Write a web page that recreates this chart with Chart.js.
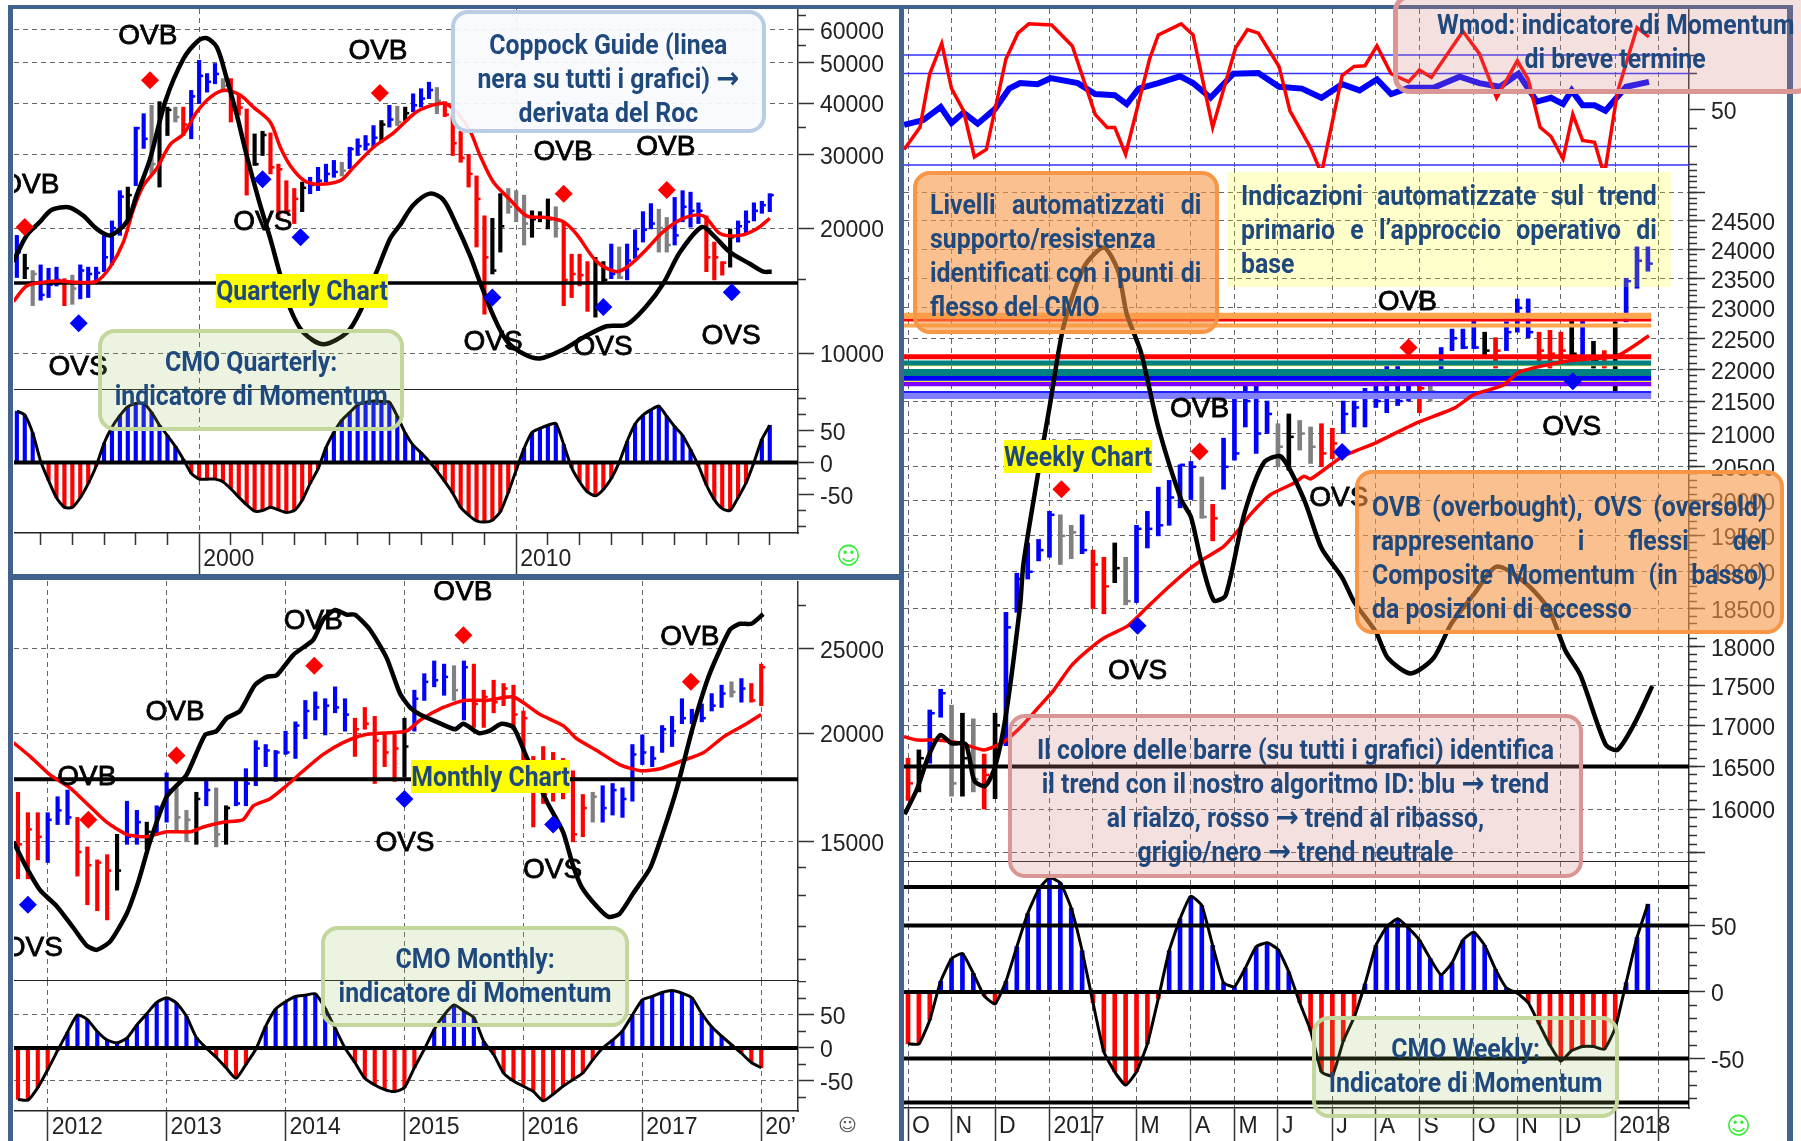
<!DOCTYPE html>
<html>
<head>
<meta charset="utf-8">
<script src="https://cdn.jsdelivr.net/npm/chart.js@4"></script>
<style>
  html, body { margin: 0; padding: 0; background: #fff; }
  #page { position: relative; width: 1801px; height: 1141px; overflow: hidden; background: #fff; }
  canvas { position: absolute; }
  .frame { position: absolute; background: #41618f; }
  .box { position: absolute; box-sizing: border-box; border-style: solid; border-width: 4px; border-radius: 17px; }
  .blue { background: rgba(248,250,253,.93); border-color: #b9cde5; }
  .green { background: rgba(155,187,89,.18); border-color: #c3d69b; }
  .orange { background: rgba(247,150,70,.6); border-color: #f79646; }
  .pink { background: rgba(217,130,130,.25); border-color: #d99694; }
  .pale { background: rgba(255,255,0,.2); border: 0; border-radius: 0; }
  .tag { position: absolute; background: #ffff00; }
  .txt {
    position: absolute; transform: scaleX(.92); transform-origin: 0 0;
    font: bold 27px/34px Roboto, sans-serif; color: #1f497d; white-space: nowrap;
  }
  .c { text-align: center; }
  .j { text-align: justify; text-align-last: justify; white-space: normal; }
  .arrow { font: bold 30px/20px "DejaVu Sans", sans-serif; }
  .smile { position: absolute; font: 24px "DejaVu Sans", sans-serif; }
</style>
</head>
<body>
<div id="page">
  <div class="frame" style="left:8px;top:5px;width:5px;height:1136px"></div>
  <div class="frame" style="left:8px;top:5px;width:1785px;height:4px"></div>
  <div class="frame" style="left:899px;top:5px;width:5px;height:1136px"></div>
  <div class="frame" style="left:8px;top:574px;width:891px;height:6px"></div>
  <div class="frame" style="left:1787px;top:5px;width:6px;height:1136px"></div>

  <div class="box blue" style="left:451px;top:10px;width:315px;height:123px"></div>
  <div class="txt c" style="left:451px;top:28px;width:342px">Coppock Guide (linea<br>nera su tutti i grafici) <span class="arrow">→</span><br>derivata del Roc</div>

  <div class="tag" style="left:216px;top:274px;width:172px;height:34px"></div>
  <div class="txt c" style="left:216px;top:274px;width:187px">Quarterly Chart</div>

  <div class="box green" style="left:98px;top:329px;width:306px;height:102px"></div>
  <div class="txt c" style="left:98px;top:345px;width:333px">CMO Quarterly:<br>indicatore di Momentum</div>

  <div class="tag" style="left:411px;top:760px;width:159px;height:33px"></div>
  <div class="txt c" style="left:411px;top:760px;width:173px">Monthly Chart</div>

  <div class="box green" style="left:321px;top:926px;width:308px;height:101px"></div>
  <div class="txt c" style="left:321px;top:942px;width:335px">CMO Monthly:<br>indicatore di Momentum</div>

  <div class="box orange" style="left:913px;top:171px;width:306px;height:163px"></div>
  <div class="txt" style="left:930px;top:188px;width:295px">
    <div class="j">Livelli automatizzati di</div>
    <div>supporto/resistenza</div>
    <div class="j">identificati con i punti di</div>
    <div>flesso del CMO</div>
  </div>

  <div class="box pale" style="left:1227px;top:172px;width:444px;height:115px"></div>
  <div class="txt" style="left:1241px;top:179px;width:452px">
    <div class="j">Indicazioni automatizzate sul trend</div>
    <div class="j">primario e l’approccio operativo di</div>
    <div>base</div>
  </div>

  <div class="box pink" style="left:1393px;top:-6px;width:420px;height:100px;border-width:5px"></div>
  <div class="txt c" style="left:1437px;top:8px;width:387px">Wmod: indicatore di Momentum<br>di breve termine</div>

  <div class="box orange" style="left:1355px;top:470px;width:429px;height:164px"></div>
  <div class="txt" style="left:1372px;top:490px;width:429px">
    <div class="j">OVB (overbought), OVS (oversold)</div>
    <div class="j">rappresentano i flessi del</div>
    <div class="j">Composite Momentum (in basso)</div>
    <div>da posizioni di eccesso</div>
  </div>

  <div class="box pink" style="left:1008px;top:714px;width:575px;height:164px"></div>
  <div class="txt c" style="left:1008px;top:733px;width:625px">Il colore delle barre (su tutti i grafici) identifica<br>il trend con il nostro algoritmo ID: blu <span class="arrow">→</span> trend<br>al rialzo, rosso <span class="arrow">→</span> trend al ribasso,<br>grigio/nero <span class="arrow">→</span> trend neutrale</div>

  <div class="box green" style="left:1312px;top:1016px;width:307px;height:102px"></div>
  <div class="txt c" style="left:1312px;top:1032px;width:334px">CMO Weekly:<br>Indicatore di Momentum</div>

  <div class="tag" style="left:1004px;top:440px;width:148px;height:33px"></div>
  <div class="txt c" style="left:1004px;top:440px;width:161px">Weekly Chart</div>

  <div class="smile" style="left:836px;top:542px;color:#33ee33">☺</div>
  <div class="smile" style="left:838px;top:1114px;color:#555;font-size:18px">☺</div>
  <div class="smile" style="left:1726px;top:1112px;color:#33ee33">☺</div>
</div>

<script>
// ---------- Quarterly chart data ----------
const qBarX = Array.from({ length: 96 }, (_, i) => 1994.25 + i * 0.25);
const qHigh = [
  19200,17300,15800,
  16300,16000,16100,15100, 15400,16300,16100,16100, 19200,20800,24600,25100,
  35000,37700,39500,40300, 39100,39100,39100,42900, 50700,47100,49800,45800,
  45800,42100,38700,33700, 34200,33900,28500,26000, 24900,25800,26500,28000,
  28500,29100,28800,31300, 32800,33400,35300,36300, 39500,39300,39100,42100,
  43300,44900,43600,40300, 37100,34200,30100,26700, 21400,21100,24200,24900,
  24600,24000,22000,21900, 23500,22500,20700,17300, 17300,16600,17000,16600,
  18300,18000,18300,19800, 21900,22900,22200,21200, 23700,24600,24400,23000,
  21400,18500,16600,19900, 20800,22000,23000,23200, 24200
];
const qLow = [
  15200,15100,13000,
  13400,13600,14500,13000, 13100,13500,13600,14800, 15700,16300,19200,20700,
  25300,31100,27000,25100, 33400,36000,33400,32800, 39900,42500,44500,42900,
  36000,37400,24000,28300, 29900,27000,21100,21700, 20500,21900,24200,24600,
  25800,26500,26700,27800, 29900,30800,31300,32200, 35000,35300,36300,38100,
  39100,41000,37700,37100, 29900,28800,25100,18000, 12400,15500,17500,21700,
  20700,18200,19000,20700, 19900,19000,13000,13600, 14500,12600,12200,14800,
  15100,15100,15000,16900, 18500,19900,17500,17500, 18200,20700,20100,20500,
  15700,15000,15400,16100, 18500,19400,20800,21700, 21900
];
const qClose = [
  17500,16000,15500,
  13800,14600,15000,14800, 14300,15800,15500,15600, 17000,20000,23800,24000,
  34800,32800,28500,37800, 38500,37000,35500,41500, 46500,45000,47000,44000,
  38500,39000,28000,28500, 33500,28000,27700,22000, 23500,25000,25400,26000,
  27000,27300,27500,31000, 31500,31800,33000,35500, 36500,36000,37800,39500,
  41000,43000,40500,37500, 32000,29500,27000,23500, 17000,15800,20200,22500,
  22200,20500,21000,21200, 21000,20800,15000,15500, 15400,14800,14800,15000,
  15500,15200,16700,17800, 19800,20500,20000,18200, 19200,22500,22000,22000,
  17000,17000,16500,19000, 20200,20700,22000,22700, 24000
];
const qTrend = ('bkg bbbr gbbb bbbk bbgk kgrb bbbg rrrk krrr rkbb bbgb bbbk bgkb bbgr ' +
                'rrrr rkkg ggkk kgrr rrkk bgbb bbgg bbbb rrrk bbbb b').replace(/ /g, '').split('');

const qMaX = [1994.14,1994.56,1995.09,1995.62,1996.14,1996.77,1997.19,1997.61,1997.93,1998.24,1998.66,1999.09,1999.51,1999.93,2000.35,2000.77,2001.29,2001.71,2002.24,2002.56,2002.87,2003.29,2003.71,2004.45,2004.87,2005.5,2006.13,2006.86,2007.39,2007.75,2008.12,2008.55,2008.86,2009.28,2009.81,2010.33,2010.96,2011.49,2011.91,2012.54,2013.17,2013.59,2014.12,2014.64,2015.27,2015.9,2016.43,2017.06,2017.58,2018];
const qMa = [13300,14500,14800,14900,14800,14900,16100,18500,22200,25300,27800,31800,33700,38100,41300,42900,41800,39100,36000,31300,28300,26100,25500,26000,28000,31300,33900,38100,39600,39900,38100,34200,29900,25800,23400,21400,21200,20700,19300,16600,15700,16300,17800,19600,21100,21400,19400,19200,19900,21100];

const qCoppockX = [1994.14,1994.56,1994.98,1995.3,1995.62,1995.93,1996.35,1996.77,1997.19,1997.72,1998.03,1998.45,1998.93,1999.51,1999.98,2000.24,2000.56,2000.87,2001.19,2001.5,2001.87,2002.24,2002.56,2002.87,2003.29,2003.92,2004.66,2005.08,2005.6,2006.03,2006.33,2006.75,2007.28,2007.7,2008.12,2008.54,2008.86,2009.28,2009.7,2010.23,2010.75,2011.49,2012.12,2012.85,2013.48,2014.12,2014.64,2015.17,2015.85,2016.22,2016.74,2017.37,2017.8,2018.06];
const qCoppock = [16600,19200,20700,22000,22400,22400,21400,19900,19200,20700,24000,29300,40300,51200,56600,57300,54500,45800,37400,29900,23500,18900,15400,12800,11200,10500,11200,12600,15700,18900,20300,22700,24200,23400,20300,17200,14800,12300,10700,9960,9700,10200,10900,11600,11700,13000,14700,17500,20100,19200,17500,16400,15700,15700];

const qCmo = [80,74,46,2,-28,-55,-70,-70,-55,-33,-6,30,55,73,87,92,92,78,58,42,25,5,-17,-26,-26,-26,-30,-41,-54,-66,-76,-75,-70,-74,-78,-75,-59,-33,-10,23,47,66,78,90,94,96,95,94,72,46,27,15,2,-13,-30,-48,-70,-82,-91,-93,-90,-77,-47,-12,22,47,53,58,61,28,-8,-30,-46,-52,-42,-25,0,33,60,74,82,88,72,56,42,20,-5,-35,-58,-72,-75,-55,-32,0,36,58];

const qSignalX = [1998.45,1994.5,2005.7,2011.5,2014.75,2002.0,2003.2,1996.2,2009.25,2012.75,2016.8];
const qSignalY = [45400,20100,42300,24200,24700,26200,19000,11800,13600,12900,14000];
const qSignalTrend = ['r','r','r','r','r','b','b','b','b','b','b'];
const qNoteText = ['OVB','OVB','OVB','OVB','OVB','OVS','OVS','OVS','OVS','OVS','OVS'];
const qNoteX = [1998.38,2005.64,1994.66,2011.48,2014.72,2002.01,1996.18,2003.24,2009.27,2012.74,2016.78];
const qNoteY = [58000,53400,25400,30500,31300,20700,9250,14200,10600,10300,11000];
const qGuide = 14750;
const qYearTicks = [2000,2010];
const qYearMinor = [1995,1996,1997,1998,1999,2001,2002,2003,2004,2005,2006,2007,2008,2009,2011,2012,2013,2014,2015,2016,2017,2018];
const qPriceTicks = [10000,20000,30000,40000,50000,60000];
const qPriceMinor = [65000,55000,35000,15000];

// ---------- Monthly chart data (x = months since Jan 2012) ----------
const mBarX = Array.from({ length: 76 }, (_, i) => i - 3);
const mHigh = [17100,16200,16200,16200,16900,17200,16000,14800,14300,14500,15300,16700,16300,15800,16500,18000,17300,16300,17100,17600,17300,16500,17600,18200,19600,19400,19100,20100,20600,21800,22300,21900,22600,21900,20800,21400,20900,20000,20000,20800,22400,23400,24200,24000,23900,24200,24000,22400,23000,22800,22700,21200,18800,19300,19000,18700,18100,17000,17100,17400,17500,17300,19400,19900,19300,20400,20900,21900,21300,21600,22200,22700,22900,23100,22800,24000];
const mLow = [13600,13600,14300,14200,15700,15700,13700,12700,12500,12200,13200,14900,14900,14700,15300,15800,15400,15000,14900,16500,14800,14900,16500,16500,17400,18300,17600,18900,18700,19700,20700,19900,21100,20100,18800,20200,17500,18300,17600,17800,20100,21800,22600,22100,21800,20700,20300,20300,21100,21500,20200,18600,15600,16600,16700,16800,15000,15200,15800,15800,16100,16000,16700,18400,18300,19000,19300,20500,20500,20600,21200,21400,22000,21700,21700,21500];
const mClose = [14900,15500,15200,15900,16300,16000,14600,14100,14200,13900,13900,15200,15800,15400,16400,17200,16000,15900,16800,17200,15300,16400,16600,17500,19200,19100,19000,19000,20400,21200,21400,21500,21400,21000,20200,20500,19600,19000,19200,19300,21900,22900,23000,23200,22400,23800,21600,22000,21700,22500,21000,20800,18300,17000,18400,18000,15300,16400,16900,16400,17200,16800,18900,19000,18700,20200,20100,20800,20700,20800,21500,22200,22300,22500,21800,23800];
const mTrend = ('rrr bbbr rrrk bbkb bggk bgkb bbbb bbbb bbbr rrrr kbbb bgbr rrrr rrrr rrrg bbbb bbbb bbbb bgb').replace(/ /g, '').split('');

const mMaX = [-3.46,-1.78,0.24,2.25,3.94,5.95,7.97,9.99,12,14.4,15.7,17.7,19.7,20.75,22.4,24.1,25.8,27.8,29.8,31.9,33.9,36.2,37.6,39.9,42,44.3,47,49.7,52,53.4,55.4,57.7,59.8,61.8,64.1,66.2,68.2,70.2,72];
const mMa = [19500,18800,17900,17300,16600,15800,15300,15200,15400,15400,15600,15800,15900,16500,16800,17400,18100,18900,19500,19900,20000,20100,20700,21400,21800,21800,22000,21000,20400,19700,19100,18400,18100,18200,18600,19000,19800,20400,21000];

const mCoppockX = [-3.46,-2.12,-0.77,0.91,2.59,3.94,4.95,6.29,7.97,9.15,10.32,12,14,15.88,17.03,18.06,19.4,20.9,22.1,23.1,24.79,26.8,27.8,29,30.2,31,32.5,34.2,35.55,36.56,37.57,39.25,41.1,41.95,43.5,44.5,45.8,47,48.3,50.35,52,53,53.9,55.4,56.6,57.7,59.1,60.8,62.1,63.5,65.2,66.8,68.85,69.85,71,72.2];
const mCoppock = [15000,14000,13200,12650,11950,11400,11270,11520,12400,13500,15000,16900,17900,19900,20100,20800,21200,22700,23200,23300,24600,25600,27000,27700,27350,27350,26300,24400,22200,21400,21000,20600,20200,20500,20000,20100,20500,20300,18800,16700,15400,14100,13300,12650,12300,12400,13100,14000,15400,17300,20500,23400,26300,26700,26700,27400];

const mCmo = [-78,-79,-60,-33,-4,24,50,43,25,12,8,15,35,52,69,76,68,48,16,0,-14,-30,-46,-25,-2,33,59,70,78,80,82,60,30,0,-22,-46,-56,-63,-66,-60,-30,-2,28,50,65,56,46,10,-10,-38,-50,-58,-66,-80,-70,-58,-48,-38,-18,0,12,26,50,73,78,84,87,83,76,52,32,18,5,-8,-22,-30];

const mSignalX = [13,4.1,26.9,41.95,64.9,-2,36,51];
const mSignalY = [18850,15900,23900,25900,22900,12700,16800,15700];
const mSignalTrend = ['r','r','r','r','r','b','b','b'];
const mNoteText = ['OVB','OVB','OVB','OVB','OVB','OVS','OVS','OVS'];
const mNoteX = [12.85,3.94,26.8,41.9,64.8,-1.45,36.05,50.95];
const mNoteY = [21150,17800,26900,29000,25750,11320,14960,13900];
const mGuide = 17700;
const mYearTicks = [0,12,24,36,48,60,72];
const mYearLabels = ['2012','2013','2014','2015','2016','2017','20’'];
const mPriceTicks = [15000,20000,25000];
const mPriceMinor = [30000,28000,14000,13000,12000,11000];

// ---------- Weekly chart data (x = weeks since October 2016) ----------
const wBarX = Array.from({ length: 69 }, (_, i) => i);
const wHigh = [16600,16700,17190,17450,17250,17150,17080,16650,17150,18450,18980,19400,19450,19850,19800,19650,19800,19300,19200,19400,19200,19650,19850,20200,20300,20530,20580,20350,19950,20930,21550,21750,21750,21500,21150,21300,21200,21100,21150,21080,21500,21500,21700,21750,22050,22050,21800,21800,21750,22350,22650,22650,22800,22600,22510,22770,23150,23150,22600,22630,22600,22800,22800,22450,22300,22770,23500,24040,24040];
const wLow = [16100,16200,16540,17100,16150,16150,16200,16000,16120,16750,18450,18900,19150,19200,19100,19180,19250,18500,18430,18850,18550,18580,19330,19500,19650,19900,20020,19750,19430,20170,20600,21100,20700,21000,20500,20450,20750,20550,20500,20620,21000,21100,21100,21400,21320,21430,21500,21320,21500,22000,22300,22330,22330,22230,22020,22300,22600,22510,22100,22020,22100,22150,22150,22020,22020,21650,22770,23330,23620];
const wClose = [16300,16600,17150,17400,16300,16600,16350,16400,17000,18250,18900,19000,19300,19800,19500,19550,19300,19100,18800,19050,18600,19600,19600,19650,20050,20530,20500,19770,19750,20500,20700,21500,21000,21300,20800,20950,21000,20800,20700,20850,21300,21400,21550,21500,21600,21500,21600,21700,21650,22200,22500,22350,22350,22300,22300,22600,23000,22600,22300,22250,22300,22250,22200,22150,22200,22700,23450,23800,23750];
const wTrend = ('rkbbgkgrkbbbbbggbrrkgbbbbbbgrbbbbbgkggrrbbbbbbbrgbbbbkrbbbrrrkbkrkbbb').split('');

const wMaX = [-0.37,0.86,2.7,4.84,6.99,8.82,10.36,11.9,13.4,14.95,16.2,18,20.2,22,23.8,25.7,27.2,29,30.3,31.5,33.3,35.5,36.4,37,39.9,43,46.7,50.2,52,54.7,56.2,60.5,65.2,68.1];
const wMa = [16860,16820,16820,16780,16700,16800,16980,17210,17440,17740,17910,18110,18270,18520,18770,19020,19180,19350,19570,19810,20090,20260,20360,20320,20650,20860,21160,21390,21600,21750,21960,22130,22220,22540];

const wCoppockX = [-0.31,0.85,1.9,2.96,4,5.3,6.1,7.1,8,9,10.3,10.6,11.9,13,14.3,16.2,18,19.3,20.1,21.4,23,25.1,26,26.9,28.1,29.2,30.9,32.7,34.3,36.4,38,39.9,41,43,44.1,46.2,48.3,49.9,52,54.1,56.8,58.9,60.4,61.8,64.1,65.2,66.8,68.4];
const wCoppock = [15940,16240,16630,16880,16780,16770,16330,16270,16500,17130,18540,19100,20350,21400,22700,23700,24030,23630,22900,22280,21100,20020,19770,19180,18610,18680,19810,20560,20650,20020,19330,18920,18590,18190,17850,17650,17850,18290,18690,19070,18840,18490,17950,17630,16770,16700,17030,17490];

const wCmo = [-39,-39,-21,8,25,29,14,-3,-9,8,34,59,77,86,82,63,31,-8,-45,-60,-70,-60,-39,-5,31,55,72,65,35,7,4,18,34,37,32,15,-8,-29,-60,-63,-37,-19,6,35,49,55,48,39,25,13,22,39,45,35,17,3,-1,-8,-24,-40,-52,-44,-41,-41,-43,-27,7,41,66];
const wCmoLevels = [79,50,0,-50,-83];

const wmodRedX = [-0.36,1.1,2,3.1,4,5.1,6.1,7.2,9,10.1,11.1,13.2,15.1,17.2,18.3,19,20,22.2,23,25.1,26.2,28,30.1,31.2,32.2,34.1,35.1,37,38,39.9,41,42,43.1,44.4,46,47,48.1,51,52.5,54.1,56,57,58.1,59.1,60.2,61.1,62,63.1,64,65.2,67,68.1];
const wmodRed = [28.4,40.5,69.8,86.4,61.7,49.6,24.3,28.4,77.9,92,97.1,96.5,85,47.6,40.5,40.5,25.8,77.9,91,97.1,91,40.5,83.9,94,92,73.8,49.6,29.4,15.3,68.8,73.8,74.2,85,69.8,65.4,71.8,67.8,93,80.9,56.7,76.9,66.8,40.5,35.5,23.3,47.6,33.4,32.4,14.2,59.7,95,90];
const wmodBlueX = [-0.36,1.4,3,4,5.1,6.4,8,9.3,10.3,11.9,13.1,15.6,17.2,19,20.1,21.2,23,25,26.2,27.8,29.9,32.2,34.1,36.2,38,39.9,41.5,43.1,44.4,46,48.3,50.7,52.5,54.4,56.1,57.8,59.1,60.2,61,62,63.1,64.1,66,68.1];
const wmodBlue = [41.9,44.5,51.6,42.9,48.6,42.5,50.6,61.7,64.7,64.1,67.4,64.7,58.7,58.1,53.2,61.7,64.7,68.4,64.7,56.7,69.8,70.2,62.7,61.7,56.7,64.1,60.7,66.8,58.7,62.1,62.1,68.2,64.7,62.7,69.8,54.6,56.7,53.2,60.7,52.6,52.6,49.6,62.7,65.4];
const wmodLevels = [80,70,30,20];

const wLevels = [22870,22800,22710,22200,22100,22060,21950,21860,21810,21770,21640,21580];
const wLevelEnd = 68.3;

const wSignalX = [46,26.8,14.1,39.9,61.1,21.1];
const wSignalY = [22350,20730,20170,20720,21810,18270];
const wSignalTrend = ['r','r','r','b','b','b'];
const wNoteText = ['OVB','OVB','OVB','OVS','OVS','OVS'];
const wNoteX = [45.9,26.8,14,61,39.6,21.1];
const wNoteY = [23090,21380,20730,21100,20040,17680];
const wGuide = 16500;
const wMonthTicks = [0,4,8,13,17,21,26,30,34,39,43,47,52,56,60,65,69];
const wMonthLabels = ['O','N','D','2017','','M','A','M','J','J','A','S','O','N','D','2018',''];
const wPriceTicks = [25000,24500,24000,23500,23000,22500,22000,21500,21000,20500,20000,19500,19000,18500,18000,17500,17000,16500,16000,15500];
const wPriceHidden = [25000,15500];

// ---------- styles ----------
const TREND = { b: '#0000ff', r: '#ff0000', g: '#808080', k: '#000000' };
const LEVEL_STYLE = [
  ['#ffa64d', 6], ['#ff0000', 3], ['#ffa64d', 4], ['#ff0000', 5], ['#008080', 5], ['#f0e040', 1.5],
  ['#008080', 7], ['#0000ff', 5], ['#f0e040', 1.5], ['#8000ff', 5], ['#2020ff', 2], ['#8080ff', 6]
];
const AXIS_FONT = { family: 'Liberation Sans', size: 23 };
const DASH = [5, 4];

// ---------- dataset helpers ----------
const zip = (xs, ys) => xs.map((x, i) => ({ x, y: ys[i] }));

function lineDs(xs, ys, color, width, tension) {
  return { type: 'line', data: zip(xs, ys), borderColor: color, borderWidth: width, tension: tension || 0, pointRadius: 0, fill: false };
}
function hLine(v, xMin, xMax, color, width) {
  return lineDs([xMin, xMax], [v, v], color, width);
}
function barDs(xs, high, low, trend, thick) {
  return { type: 'bar', data: xs.map((x, i) => ({ x, y: [low[i], high[i]] })), backgroundColor: trend.map(t => TREND[t]), barThickness: thick };
}
function closeDs(xs, close, trend, len) {
  return { type: 'line', data: zip(xs, close), showLine: false, pointStyle: 'dash', pointRadius: len, pointBorderWidth: 2.5, pointBorderColor: trend.map(t => TREND[t]) };
}
function signalDs(xs, ys, trend) {
  return { type: 'line', data: zip(xs, ys), showLine: false, pointStyle: 'rectRot', pointRadius: 9, pointBackgroundColor: trend.map(t => TREND[t]), pointBorderWidth: 0 };
}
function stemDs(xs, vals, thick) {
  return { type: 'bar', data: zip(xs, vals), backgroundColor: vals.map(v => v >= 0 ? TREND.b : TREND.r), barThickness: thick };
}

// OVB / OVS words, anchored on the price scale
function notes(xs, ys, texts) {
  return {
    id: 'notes',
    afterDatasetsDraw(chart) {
      const { ctx, scales } = chart;
      ctx.save();
      ctx.font = '28px "Liberation Sans"';
      ctx.textAlign = 'center';
      ctx.textBaseline = 'middle';
      ctx.fillStyle = '#000';
      ctx.strokeStyle = '#000';
      ctx.lineWidth = 0.8;
      texts.forEach((t, i) => {
        const px = scales.x.getPixelForValue(xs[i]);
        const py = scales.y.getPixelForValue(ys[i]);
        ctx.fillText(t, px, py);
        ctx.strokeText(t, px, py);
      });
      ctx.restore();
    }
  };
}

// ---------- axis helpers ----------
// the tick labels must not push the plot area in: every plot has a fixed size
function fixSize(a, w, h) {
  if (w !== null) a.width = w;
  if (h !== null) a.height = h;
  a.paddingLeft = a.paddingRight = a.paddingTop = a.paddingBottom = 0;
}

function yAxes(type, min, max, major, minor, axisW, grid, label) {
  return {
    y: {
      type, position: 'right', min, max, weight: 1,
      afterBuildTicks: a => { a.ticks = major.map(value => ({ value })); },
      afterFit: a => fixSize(a, axisW, null),
      ticks: { autoSkip: false, padding: 6, labelOffset: 3, color: '#222', font: AXIS_FONT, callback: label || (v => String(v)) },
      grid: { drawOnChartArea: grid, color: '#666', tickColor: '#333', tickLength: 16, tickWidth: 1.5 },
      border: { display: true, color: '#333', width: 1.5, dash: DASH }
    },
    y2: {
      type, position: 'right', min, max, weight: 0,
      afterBuildTicks: a => { a.ticks = minor.map(value => ({ value })); },
      afterFit: a => fixSize(a, 0, null),
      ticks: { display: false, autoSkip: false },
      grid: { drawOnChartArea: false, tickColor: '#333', tickLength: 8, tickWidth: 1.5 },
      border: { display: false }
    }
  };
}

function xAxes(min, max, major, axisH, labels, labelTop, minor) {
  const base = {
    type: 'linear', position: 'bottom', min, max, offset: false,
    afterBuildTicks: a => { a.ticks = major.map(value => ({ value })); },
    afterFit: a => fixSize(a, null, axisH),
    grid: { offset: false, color: '#666', tickColor: '#333', tickLength: axisH, tickWidth: 1.5, drawTicks: axisH > 0 },
    border: { display: true, color: '#222', width: 1.5, dash: DASH },
    ticks: axisH > 0 ? {
      autoSkip: false, maxRotation: 0, minRotation: 0, align: 'start', labelOffset: 4, padding: labelTop - axisH,
      color: '#222', font: AXIS_FONT, callback: (v, i) => labels[i]
    } : { display: false, autoSkip: false }
  };
  const out = { x: base };
  if (minor) {
    out.x2 = {
      type: 'linear', position: 'bottom', min, max, offset: false, weight: -1,
      afterBuildTicks: a => { a.ticks = minor.map(value => ({ value })); },
      afterFit: a => fixSize(a, null, 0),
      ticks: { display: false, autoSkip: false },
      grid: { offset: false, drawOnChartArea: false, tickColor: '#333', tickLength: 12, tickWidth: 1.5 },
      border: { display: false }
    };
  }
  return out;
}

function addChart(left, top, plotW, plotH, axisW, axisH, datasets, scales, plugins) {
  const page = document.getElementById('page');
  const canvas = document.createElement('canvas');
  canvas.width = plotW + axisW;
  canvas.height = plotH + axisH;
  canvas.style.left = left + 'px';
  canvas.style.top = top + 'px';
  page.insertBefore(canvas, page.firstChild);
  return new Chart(canvas.getContext('2d'), {
    type: 'bar',
    data: { datasets },
    options: {
      responsive: false, animation: false, devicePixelRatio: 1,
      layout: { padding: 0, autoPadding: false },
      plugins: { legend: { display: false }, tooltip: { enabled: false } },
      scales
    },
    plugins: plugins || []
  });
}

// ---------- Quarterly ----------
const Q_MIN = 1994.16, Q_MAX = 2018.89;
addChart(14, 9, 784, 381, 99, 0, [
  signalDs(qSignalX, qSignalY, qSignalTrend),
  lineDs(qCoppockX, qCoppock, '#000', 4.5, 0.3),
  lineDs(qMaX, qMa, '#ff0000', 3.5, 0.3),
  hLine(qGuide, Q_MIN, Q_MAX, '#000', 3.5),
  closeDs(qBarX, qClose, qTrend, 4),
  barDs(qBarX, qHigh, qLow, qTrend, 3.5)
], { ...xAxes(Q_MIN, Q_MAX, qYearTicks, 0), ...yAxes('logarithmic', 8145, 67380, qPriceTicks, qPriceMinor, 99, true) },
[notes(qNoteX, qNoteY, qNoteText)]);

addChart(14, 390, 784, 143, 99, 41, [
  hLine(0, Q_MIN, Q_MAX, '#000', 4),
  lineDs(qBarX, qCmo, '#000', 3, 0.2),
  stemDs(qBarX, qCmo, 3.5)
], { ...xAxes(Q_MIN, Q_MAX, qYearTicks, 41, ['2000', '2010'], 13, qYearMinor), ...yAxes('linear', -110, 113, [50, 0, -50], [100, 75, 25, -25, -75, -100], 99, false) });

// ---------- Monthly ----------
const M_MIN = -3.4, M_MAX = 75.71;
addChart(14, 581, 784, 400, 99, 0, [
  signalDs(mSignalX, mSignalY, mSignalTrend),
  lineDs(mCoppockX, mCoppock, '#000', 4.5, 0.2),
  lineDs(mMaX, mMa, '#ff0000', 3.5, 0.2),
  hLine(mGuide, M_MIN, M_MAX, '#000', 4),
  closeDs(mBarX, mClose, mTrend, 4),
  barDs(mBarX, mHigh, mLow, mTrend, 3.5)
], { ...xAxes(M_MIN, M_MAX, mYearTicks, 0), ...yAxes('logarithmic', 10380, 29900, mPriceTicks, mPriceMinor, 99, true) },
[notes(mNoteX, mNoteY, mNoteText)]);

addChart(14, 981, 784, 130, 99, 30, [
  hLine(0, M_MIN, M_MAX, '#000', 4),
  lineDs(mBarX, mCmo, '#000', 3, 0.2),
  stemDs(mBarX, mCmo, 3.5)
], { ...xAxes(M_MIN, M_MAX, mYearTicks, 30, mYearLabels, 3), ...yAxes('linear', -95.5, 101.5, [50, 0, -50], [100, 75, 25, -25, -75], 99, true) });

// ---------- Weekly ----------
const W_MIN = -0.37, W_MAX = 71.78;
const wmodX = xAxes(W_MIN, W_MAX, wMonthTicks, 0);
wmodX.x.border.display = false; // no rule under the Wmod panel

addChart(904, 9, 785, 159, 97, 0, [
  lineDs(wmodRedX, wmodRed, '#ff0000', 3.5),
  lineDs(wmodBlueX, wmodBlue, '#0000ff', 6),
  ...wmodLevels.map(v => hLine(v, W_MIN, W_MAX, '#3333ff', 1.5))
], { ...wmodX, ...yAxes('linear', 18.3, 105.2, [50], [80, 70, 60, 40, 30, 20], 97, false) });

const wMinor = [];
for (let v = 15400; v <= 25400; v += 100) wMinor.push(v);

addChart(904, 168, 785, 694, 97, 0, [
  signalDs(wSignalX, wSignalY, wSignalTrend),
  lineDs(wCoppockX, wCoppock, '#000', 4.5, 0.25),
  lineDs(wMaX, wMa, '#ff0000', 3.5, 0.2),
  ...wLevels.map((v, i) => hLine(v, W_MIN, wLevelEnd, LEVEL_STYLE[i][0], LEVEL_STYLE[i][1])),
  hLine(wGuide, W_MIN, W_MAX, '#000', 4),
  closeDs(wBarX, wClose, wTrend, 5),
  barDs(wBarX, wHigh, wLow, wTrend, 4)
], { ...xAxes(W_MIN, W_MAX, wMonthTicks, 0),
     ...yAxes('logarithmic', 15398, 25453, wPriceTicks, wMinor, 97, true, v => wPriceHidden.includes(v) ? '' : String(v)) },
[notes(wNoteX, wNoteY, wNoteText)]);

addChart(904, 862, 785, 246, 97, 33, [
  ...wCmoLevels.map(v => hLine(v, W_MIN, W_MAX, '#000', 4)),
  lineDs(wBarX, wCmo, '#000', 3, 0.15),
  stemDs(wBarX, wCmo, 4)
], { ...xAxes(W_MIN, W_MAX, wMonthTicks, 33, wMonthLabels, 5),
     ...yAxes('linear', -87.2, 97.7, [50, 0, -50], [90, 80, 70, 60, 40, 30, 20, 10, -10, -20, -30, -40, -60, -70, -80], 97, false) });
</script>
</body>
</html>
